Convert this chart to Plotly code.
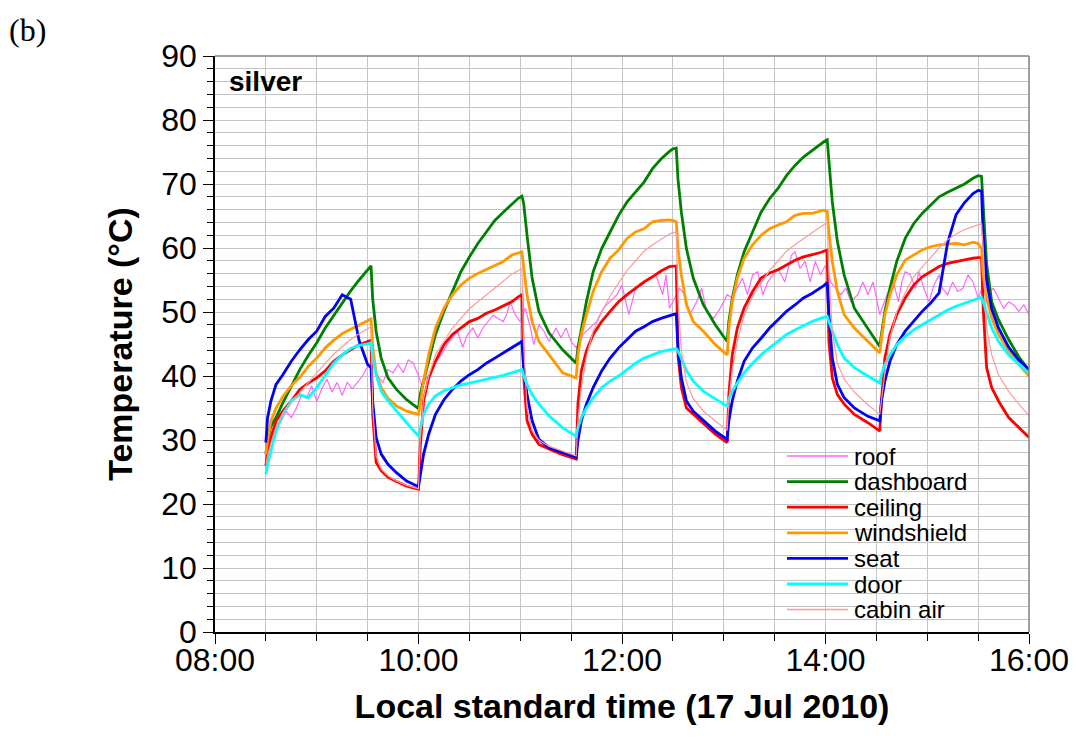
"""
Car cabin surface temperatures, silver vehicle, 17 Jul 2010
"""

import pandas as pd
import plotly.graph_objects as go

# minutes after 08:00 LST, denser around each door opening
minutes = [
    30, 31, 33, 36, 40, 45, 50, 55, 60, 65, 70, 75, 80, 85, 90, 92, 93, 95, 98, 102, 107, 113,
    120, 121, 123, 126, 130, 135, 140, 145, 150, 155, 160, 165, 170, 175, 179, 181, 182, 184, 187, 191, 197, 205,
    213, 214, 216, 219, 223, 228, 233, 238, 243, 248, 253, 258, 263, 268, 270, 272, 273, 275, 278, 282, 288, 295,
    302, 303, 305, 308, 312, 317, 322, 327, 332, 337, 342, 347, 352, 357, 359, 361, 362, 364, 367, 371, 377, 385,
    392, 393, 395, 398, 402, 407, 412, 417, 422, 427, 432, 437, 442, 447, 450, 452, 453, 455, 458, 462, 468, 474, 480,
]

dashboard = [
    27.8, 30.0, 32.2, 33.5, 35.8, 38.5, 41.0, 43.2, 45.2, 47.5, 49.5, 51.5, 53.3, 55.0, 56.6, 57.2, 52.0, 47.0, 42.8, 39.7, 37.9, 36.3,
    34.9, 37.1, 39.2, 42.3, 46.5, 50.1, 53.2, 56.3, 58.6, 60.7, 62.5, 64.3, 65.6, 66.9, 67.8, 68.1, 67.0, 62.0, 55.3, 50.1, 46.7, 44.1,
    42.0, 44.4, 47.5, 51.6, 56.3, 59.9, 62.5, 65.1, 67.2, 68.7, 70.3, 72.4, 73.9, 75.1, 75.5, 75.6, 70.8, 65.6, 59.9, 55.3, 51.1, 48.0,
    45.4, 48.5, 52.1, 55.8, 59.4, 62.5, 65.6, 67.7, 69.3, 71.3, 72.9, 74.2, 75.2, 76.3, 76.6, 76.9, 73.9, 67.2, 61.0, 55.8, 50.6, 47.5,
    44.6, 46.5, 50.1, 53.7, 57.9, 61.5, 63.8, 65.4, 66.7, 68.0, 68.7, 69.3, 70.0, 70.9, 71.3, 71.2, 66.0, 57.5, 51.6, 48.8, 45.7, 43.0, 40.9,
]

ceiling = [
    26.0, 28.3, 30.4, 33.0, 34.5, 36.1, 37.9, 38.9, 39.7, 40.8, 42.3, 43.3, 44.1, 44.9, 45.4, 45.6, 34.0, 26.5, 25.2, 24.2, 23.5, 22.8,
    22.3, 28.8, 36.1, 39.7, 42.3, 44.9, 46.5, 47.5, 48.5, 49.0, 49.8, 50.3, 50.9, 51.6, 52.4, 52.7, 40.0, 33.0, 30.9, 29.3, 28.6, 27.7,
    27.0, 35.6, 40.8, 43.9, 46.5, 48.5, 50.1, 51.6, 52.7, 53.7, 54.7, 55.5, 56.4, 57.1, 57.2, 57.2, 43.3, 38.2, 35.0, 34.0, 32.5, 30.9,
    29.6, 37.1, 43.3, 47.5, 50.6, 53.2, 55.3, 56.1, 56.6, 57.4, 58.1, 58.6, 58.9, 59.3, 59.5, 59.7, 45.4, 39.7, 37.1, 35.6, 34.0, 32.7,
    31.4, 36.1, 42.8, 46.5, 49.6, 52.2, 54.2, 55.5, 56.3, 57.1, 57.6, 57.9, 58.1, 58.4, 58.5, 58.5, 50.6, 41.3, 38.2, 36.1, 33.5, 31.9, 30.4,
]

windshield = [
    27.8, 30.0, 33.0, 35.0, 36.8, 38.5, 39.8, 41.5, 42.8, 44.4, 45.6, 46.6, 47.3, 48.0, 48.6, 48.9, 44.5, 40.5, 38.2, 36.5, 35.3, 34.5,
    34.0, 36.0, 39.2, 43.3, 47.5, 50.6, 52.7, 54.2, 55.3, 56.0, 56.6, 57.3, 57.9, 58.9, 59.3, 59.4, 57.0, 52.7, 48.5, 45.4, 43.3, 40.5,
    39.7, 43.3, 46.5, 49.6, 53.2, 56.3, 58.4, 59.7, 61.5, 62.5, 63.0, 64.1, 64.3, 64.4, 64.3, 64.1, 59.9, 55.8, 51.1, 48.5, 47.0, 44.9,
    43.3, 47.5, 51.6, 55.3, 58.4, 60.5, 62.0, 63.0, 63.6, 64.1, 65.1, 65.4, 65.4, 65.7, 65.9, 65.7, 62.5, 57.9, 53.2, 49.6, 47.5, 45.4,
    43.6, 45.9, 49.6, 52.7, 55.8, 58.1, 58.9, 59.7, 60.2, 60.5, 60.6, 60.7, 60.5, 60.9, 60.7, 59.9, 55.8, 52.2, 49.1, 46.5, 43.9, 41.8, 40.0,
]

seat = [
    29.6, 33.5, 36.1, 38.7, 40.2, 42.3, 44.1, 45.7, 47.0, 49.3, 50.6, 52.7, 52.0, 45.5, 41.8, 41.3, 36.0, 30.4, 27.8, 26.2, 24.9, 23.6,
    22.7, 24.7, 27.8, 30.9, 34.0, 36.3, 37.9, 39.2, 40.2, 41.0, 42.0, 42.8, 43.6, 44.4, 45.0, 45.4, 41.3, 37.1, 33.0, 30.1, 28.8, 28.1,
    27.3, 29.9, 33.0, 35.6, 38.2, 40.8, 42.8, 44.4, 45.7, 47.0, 47.7, 48.5, 49.0, 49.5, 49.6, 49.7, 44.4, 39.7, 36.1, 34.5, 33.0, 31.4,
    30.1, 33.0, 36.1, 39.2, 42.3, 44.4, 45.9, 47.5, 48.8, 50.1, 51.1, 52.2, 52.9, 53.7, 54.1, 54.6, 49.6, 42.8, 38.7, 36.6, 35.0, 33.7,
    33.0, 36.1, 39.2, 42.3, 44.9, 47.0, 48.5, 50.1, 51.4, 53.0, 60.8, 65.2, 67.1, 68.5, 69.0, 68.9, 62.0, 55.0, 50.5, 47.5, 44.5, 42.5, 41.0,
]

door = [
    24.7, 26.2, 28.3, 31.4, 34.0, 36.1, 37.1, 36.6, 38.2, 40.2, 42.0, 43.3, 44.3, 44.8, 45.0, 45.2, 42.8, 40.2, 37.6, 36.1, 34.5, 32.7,
    30.6, 31.9, 34.0, 35.6, 36.9, 37.7, 38.2, 38.6, 38.9, 39.2, 39.5, 39.7, 40.1, 40.5, 40.8, 41.0, 40.0, 38.7, 37.1, 35.6, 33.8, 31.9,
    30.6, 31.9, 33.5, 35.0, 36.6, 38.2, 39.2, 40.0, 41.0, 42.0, 42.8, 43.3, 43.8, 44.1, 44.2, 44.3, 43.9, 42.8, 40.8, 39.2, 37.6, 36.4,
    35.3, 36.4, 37.6, 38.9, 40.5, 42.0, 43.3, 44.4, 45.4, 46.5, 47.2, 47.9, 48.5, 49.0, 49.2, 49.3, 48.5, 47.0, 44.9, 42.8, 41.3, 40.0,
    38.9, 40.2, 41.8, 43.3, 44.9, 46.2, 47.2, 48.0, 48.8, 49.6, 50.3, 50.9, 51.4, 51.9, 52.2, 52.3, 51.6, 50.1, 47.5, 45.4, 43.3, 41.8, 40.5,
]

cabin_air = [
    26.2, 27.5, 29.5, 32.0, 34.0, 35.8, 37.4, 39.0, 40.5, 42.0, 43.4, 44.6, 45.7, 46.6, 47.4, 47.7, 35.0, 27.5, 25.5, 24.4, 23.6, 22.9,
    22.4, 30.0, 36.5, 40.0, 43.3, 45.5, 47.5, 49.0, 50.5, 51.6, 52.7, 53.8, 54.8, 55.9, 56.5, 56.8, 45.0, 35.0, 31.5, 30.0, 29.0, 28.2,
    27.5, 33.0, 38.2, 43.0, 47.0, 50.0, 52.5, 54.5, 56.5, 58.0, 59.5, 60.5, 61.4, 62.2, 62.4, 62.5, 52.0, 44.0, 39.0, 36.5, 34.5, 33.0,
    31.5, 36.0, 41.0, 45.5, 49.5, 52.5, 54.5, 56.5, 58.0, 59.5, 60.5, 61.5, 62.4, 63.3, 63.7, 64.0, 56.0, 47.0, 42.0, 39.5, 37.5, 35.5,
    34.0, 36.5, 40.5, 46.0, 50.0, 53.0, 55.5, 57.0, 58.5, 60.0, 61.3, 62.2, 62.9, 63.4, 63.7, 63.8, 60.0, 47.5, 43.3, 40.2, 37.6, 35.6, 33.8,
]

# roof probe is noisy, read on its own ~3 min grid
roof_minutes = [
    30, 33, 36, 39, 42, 45, 48, 51, 54, 57, 60, 63, 66, 69, 72, 75, 78, 81, 84, 87,
    90, 93, 96, 99, 102, 105, 108, 111, 114, 117, 120, 122, 125, 128, 131, 134, 137, 140, 143, 146,
    149, 152, 155, 158, 161, 164, 167, 170, 172, 174, 177, 180, 183, 186, 188, 191, 194, 197, 201, 204,
    207, 210, 213, 217, 221, 225, 229, 233, 237, 240, 244, 248, 252, 256, 260, 264, 266, 268, 271, 274,
    277, 280, 284, 287, 290, 294, 298, 302, 305, 308, 311, 314, 317, 320, 323, 326, 329, 332, 336, 340,
    342, 345, 348, 351, 354, 357, 360, 363, 366, 369, 372, 375, 379, 382, 385, 388, 390, 392, 394, 397,
    400, 403, 405, 407, 410, 413, 415, 418, 421, 424, 427, 429, 432, 435, 438, 441, 444, 447, 450, 453,
    456, 459, 462, 465, 468, 471, 474, 477, 480,
]
roof = [
    29.0, 32.0, 33.5, 33.0, 34.5, 33.5, 35.0, 37.0, 36.5, 38.5, 36.0, 38.0, 39.5, 37.5, 39.0, 37.0, 39.0, 38.0, 39.0, 40.0,
    41.5, 42.0, 40.0, 39.0, 41.0, 40.5, 41.8, 40.5, 42.5, 42.0, 40.0, 38.5, 39.8, 41.0, 42.5, 43.5, 45.0, 46.0, 47.0, 44.5,
    46.5, 47.5, 46.0, 47.5, 48.5, 49.5, 49.0, 48.5, 49.6, 51.6, 49.6, 48.5, 50.6, 47.5, 44.9, 48.0, 47.0, 45.4, 47.5, 46.0,
    47.5, 45.4, 44.4, 46.5, 47.5, 48.5, 50.6, 51.6, 52.7, 54.2, 49.6, 53.7, 54.2, 55.3, 55.8, 52.7, 55.8, 50.6, 52.2, 53.7,
    52.7, 49.6, 51.6, 53.7, 50.1, 49.0, 50.6, 52.7, 52.2, 53.7, 55.3, 52.7, 55.8, 56.3, 52.7, 54.7, 55.8, 56.8, 54.7, 58.9,
    59.4, 56.8, 57.9, 54.7, 57.9, 55.8, 57.3, 54.7, 53.7, 52.7, 53.7, 51.6, 52.7, 54.7, 52.7, 54.7, 52.2, 49.6, 51.1, 53.2,
    54.7, 51.6, 54.7, 56.3, 55.8, 53.7, 56.3, 53.7, 51.6, 54.2, 55.8, 53.7, 52.7, 54.7, 53.2, 53.7, 55.8, 54.7, 52.2, 54.2,
    53.2, 53.7, 52.2, 50.6, 51.6, 51.1, 50.1, 51.1, 49.6,
]

FONT = "Liberation Sans, Arial, sans-serif"
GRID = "#C4C4C4"

# plot area in pixels (1076 x 750 page)
L, R, T, B = 215, 1029, 56, 632


def px_x(px):
    return (px - L) / (R - L)


def px_y(py):
    return (B - py) / (B - T)


base = pd.Timestamp("2010-07-17 08:00")
t = base + pd.to_timedelta(minutes, unit="min")
t_roof = base + pd.to_timedelta(roof_minutes, unit="min")

series = [
    ("roof", t_roof, roof, "#FF66FF", 1.2),
    ("dashboard", t, dashboard, "#008000", 2.8),
    ("ceiling", t, ceiling, "#FF0000", 2.8),
    ("windshield", t, windshield, "#FF9900", 2.8),
    ("seat", t, seat, "#0000FF", 2.8),
    ("door", t, door, "#00FFFF", 2.8),
    ("cabin air", t, cabin_air, "#FF9999", 1.2),
]

fig = go.Figure()
for name, x, y, color, width in series:
    fig.add_trace(
        go.Scatter(x=x, y=y, name=name, mode="lines", line=dict(color=color, width=width))
    )

shapes = [
    # legend panel and label box hide the grid
    dict(type="rect", xref="paper", yref="paper", x0=px_x(724), x1=1, y0=0, y1=px_y(438),
         fillcolor="white", line=dict(width=0), layer="between"),
    dict(type="rect", xref="paper", yref="paper", x0=px_x(216), x1=px_x(314), y0=px_y(101), y1=px_y(63),
         fillcolor="white", line=dict(width=0), layer="between"),
    # grey frame top and right
    dict(type="line", xref="paper", yref="paper", x0=0, x1=1, y0=1, y1=1,
         line=dict(color="#808080", width=1.5)),
    dict(type="line", xref="paper", yref="paper", x0=1, x1=1, y0=0, y1=1,
         line=dict(color="#808080", width=1.5)),
]

annotations = [
    dict(text="(b)", xref="paper", yref="paper", x=px_x(7), y=px_y(30), xanchor="left", yanchor="middle",
         showarrow=False, font=dict(family="Liberation Serif, serif", size=32, color="black")),
    dict(text="<b>silver</b>", xref="paper", yref="paper", x=px_x(227), y=px_y(81), xanchor="left",
         yanchor="middle", showarrow=False, font=dict(family=FONT, size=28, color="black")),
]

# hand-built legend, tighter than the plotly one
for i, (name, _, _, color, width) in enumerate(series):
    ypos = px_y(456 + i * 25.6)
    shapes.append(dict(type="line", xref="paper", yref="paper", x0=px_x(787), x1=px_x(848),
                       y0=ypos, y1=ypos, line=dict(color=color, width=max(width, 1.5))))
    annotations.append(dict(text=name, xref="paper", yref="paper", x=px_x(852), y=ypos,
                            xanchor="left", yanchor="middle", showarrow=False,
                            font=dict(family=FONT, size=24, color="black")))

fig.update_layout(
    width=1076,
    height=750,
    margin=dict(l=L, r=1076 - R, t=T, b=750 - B),
    paper_bgcolor="white",
    plot_bgcolor="white",
    showlegend=False,
    shapes=shapes,
    annotations=annotations,
    font=dict(family=FONT, size=32, color="black"),
)

fig.update_xaxes(
    type="date",
    range=["2010-07-17 08:00", "2010-07-17 16:00"],
    tick0="2010-07-17 08:00",
    dtick=2 * 3600 * 1000,
    tickformat="%H:%M",
    ticks="outside",
    ticklen=10,
    tickwidth=1.2,
    tickcolor="black",
    ticklabelstandoff=-11,
    automargin=False,
    showline=True,
    linecolor="black",
    linewidth=1.5,
    showgrid=True,
    gridcolor=GRID,
    tickfont=dict(size=32),
    minor=dict(dtick=30 * 60 * 1000, ticks="outside", ticklen=7, tickcolor="black",
               showgrid=True, gridcolor=GRID),
    title=dict(text="<b>Local standard time (17 Jul 2010)</b>", font=dict(size=34), standoff=17),
)

fig.update_yaxes(
    range=[0, 90],
    dtick=10,
    ticks="outside",
    ticklen=10,
    tickwidth=1.2,
    tickcolor="black",
    ticklabelstandoff=0,
    automargin=False,
    showline=True,
    linecolor="black",
    linewidth=1.5,
    zeroline=False,
    showgrid=True,
    gridcolor=GRID,
    tickfont=dict(size=32),
    minor=dict(dtick=2, ticks="outside", ticklen=6, tickcolor="black",
               showgrid=True, gridcolor=GRID),
    title=dict(text="<b>Temperature (°C)</b>", font=dict(size=34), standoff=18),
)

# the page's default 8px body margin would shift the figure
fig.write_html(
    "out.html",
    config={"displayModeBar": False},
    post_script="document.body.style.margin = '0';",
)
